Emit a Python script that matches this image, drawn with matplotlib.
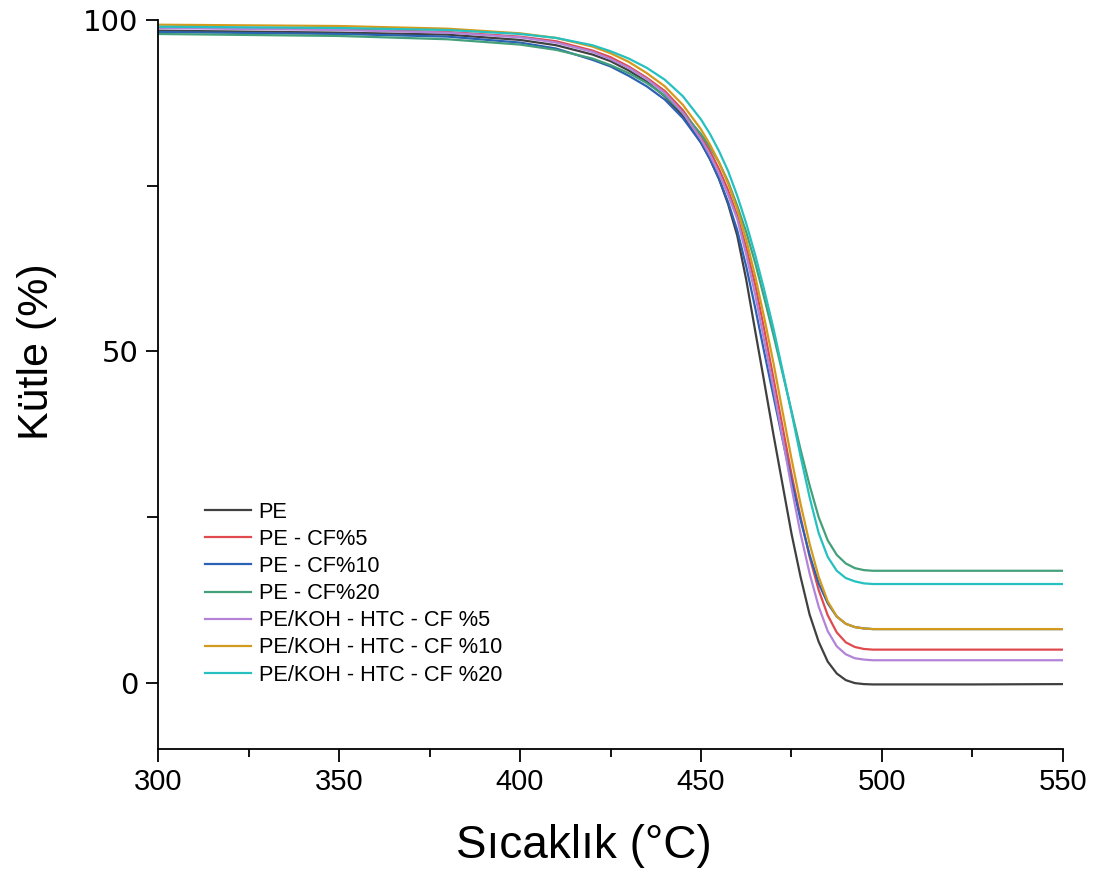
import matplotlib
matplotlib.use('Agg')
import matplotlib.pyplot as plt
from matplotlib.ticker import MultipleLocator

plt.rcParams['font.family'] = ['Liberation Sans', 'DejaVu Sans']

# Temperature grid (°C) used for all curves
temp = [300, 350, 380, 400, 410, 420, 425, 430, 435, 440, 445, 450, 452.5, 455, 457.5,
        460, 462.5, 465, 467.5, 470, 472.5, 475, 477.5, 480, 482.5, 485, 487.5, 490,
        492.5, 495, 497.5, 500, 525, 550]

# Mass (%)
pe = [98.4, 98.1, 97.8, 97.0, 96.2, 94.8, 93.8, 92.4, 90.7, 88.5, 85.5, 81.5, 79.0, 76.0, 72.2,
      67.5, 60.8, 53.0, 45.3, 37.5, 30.0, 22.5, 16.0, 10.3, 6.2, 3.2, 1.4, 0.4,
      -0.05, -0.2, -0.25, -0.25, -0.25, -0.2]
pe_cf5 = [98.9, 98.6, 98.2, 97.5, 96.8, 95.4, 94.4, 93.0, 91.3, 89.3, 86.4, 82.5, 80.2, 77.5, 74.3,
          70.5, 65.6, 60.0, 53.2, 46.0, 38.7, 31.5, 25.0, 19.0, 14.0, 10.2, 7.6, 6.1,
          5.4, 5.1, 5.0, 5.0, 5.0, 5.0]
pe_cf10 = [98.2, 97.9, 97.5, 96.6, 95.7, 94.0, 93.0, 91.6, 90.0, 88.0, 85.2, 81.5, 79.0, 76.0, 72.5,
           68.3, 62.8, 56.5, 49.8, 43.3, 36.8, 30.5, 24.6, 19.3, 15.0, 12.0, 10.0, 8.9,
           8.4, 8.2, 8.1, 8.1, 8.1, 8.1]
pe_cf20 = [97.9, 97.6, 97.1, 96.3, 95.5, 94.2, 93.2, 92.0, 90.5, 88.6, 86.0, 82.8, 80.8, 78.5, 75.6,
           72.0, 68.0, 63.3, 58.0, 52.5, 46.8, 41.0, 35.2, 29.8, 25.0, 21.5, 19.3, 18.0,
           17.3, 17.0, 16.9, 16.9, 16.9, 16.9]
koh_cf5 = [98.8, 98.5, 98.1, 97.4, 96.6, 95.2, 94.1, 92.8, 91.1, 89.0, 86.0, 82.0, 79.6, 76.8, 73.6,
           70.0, 64.6, 58.5, 51.5, 44.5, 37.0, 29.5, 22.5, 16.5, 11.5, 7.8, 5.5, 4.3,
           3.7, 3.5, 3.4, 3.4, 3.4, 3.4]
koh_cf10 = [99.3, 99.1, 98.7, 98.0, 97.3, 96.0, 95.0, 93.7, 92.0, 90.0, 87.2, 83.5, 81.2, 78.5, 75.3,
            71.5, 66.8, 61.3, 55.0, 48.3, 41.0, 33.8, 27.0, 21.0, 16.0, 12.3, 10.0, 8.9,
            8.4, 8.2, 8.1, 8.1, 8.1, 8.1]
koh_cf20 = [99.0, 98.8, 98.5, 97.9, 97.3, 96.2, 95.3, 94.2, 92.8, 91.0, 88.5, 85.0, 82.8, 80.2, 77.2,
            73.5, 69.3, 64.5, 59.2, 53.5, 47.2, 40.8, 34.2, 28.0, 22.6, 19.0, 16.9, 15.8,
            15.3, 15.0, 14.9, 14.9, 14.9, 14.9]

labels = ['PE', 'PE - CF%5', 'PE - CF%10', 'PE - CF%20',
          'PE/KOH - HTC - CF %5', 'PE/KOH - HTC - CF %10', 'PE/KOH - HTC - CF %20']
series = [pe, pe_cf5, pe_cf10, pe_cf20, koh_cf5, koh_cf10, koh_cf20]
colors = ['#404040', '#e04a4e', '#2c62b4', '#43a07a', '#b383d8', '#d39b1c', '#26c0c0']

fig = plt.figure(figsize=(11.06, 8.72), dpi=100)
ax = fig.add_axes([0.1429, 0.141, 0.8182, 0.836])

for vals, lab, col in zip(series, labels, colors):
    ax.plot(temp, vals, color=col, lw=1.6, label=lab)

ax.set_xlim(300, 550)
ax.set_ylim(-10, 100)
ax.xaxis.set_major_locator(MultipleLocator(50))
ax.xaxis.set_minor_locator(MultipleLocator(25))
ax.yaxis.set_major_locator(MultipleLocator(50))
ax.yaxis.set_minor_locator(MultipleLocator(25))

ax.spines['top'].set_visible(False)
ax.spines['right'].set_visible(False)
for s in ['left', 'bottom']:
    ax.spines[s].set_linewidth(1.3)

ax.tick_params(which='major', direction='out', length=9, width=1.3, labelsize=21, pad=5)
ax.tick_params(which='minor', direction='out', length=6, width=1.3)
ax.tick_params(axis='y', which='minor', length=8)
# y tick numbers are drawn in a wider face in the original
for t in ax.get_yticklabels():
    t.set_fontfamily('DejaVu Sans')

ax.set_xlabel('Sıcaklık (°C)', fontsize=33)
ax.set_ylabel('Kütle (%)', fontsize=31)
ax.xaxis.set_label_coords(0.471, -0.103)
ax.yaxis.set_label_coords(-0.112, 0.545)

ax.legend(loc='upper left', bbox_to_anchor=(0.052, 0.339), frameon=False,
          fontsize=15.7, handlelength=2.1, handletextpad=0.35, labelspacing=0.28,
          borderpad=0, borderaxespad=0)

fig.savefig('out.png', dpi=100)
